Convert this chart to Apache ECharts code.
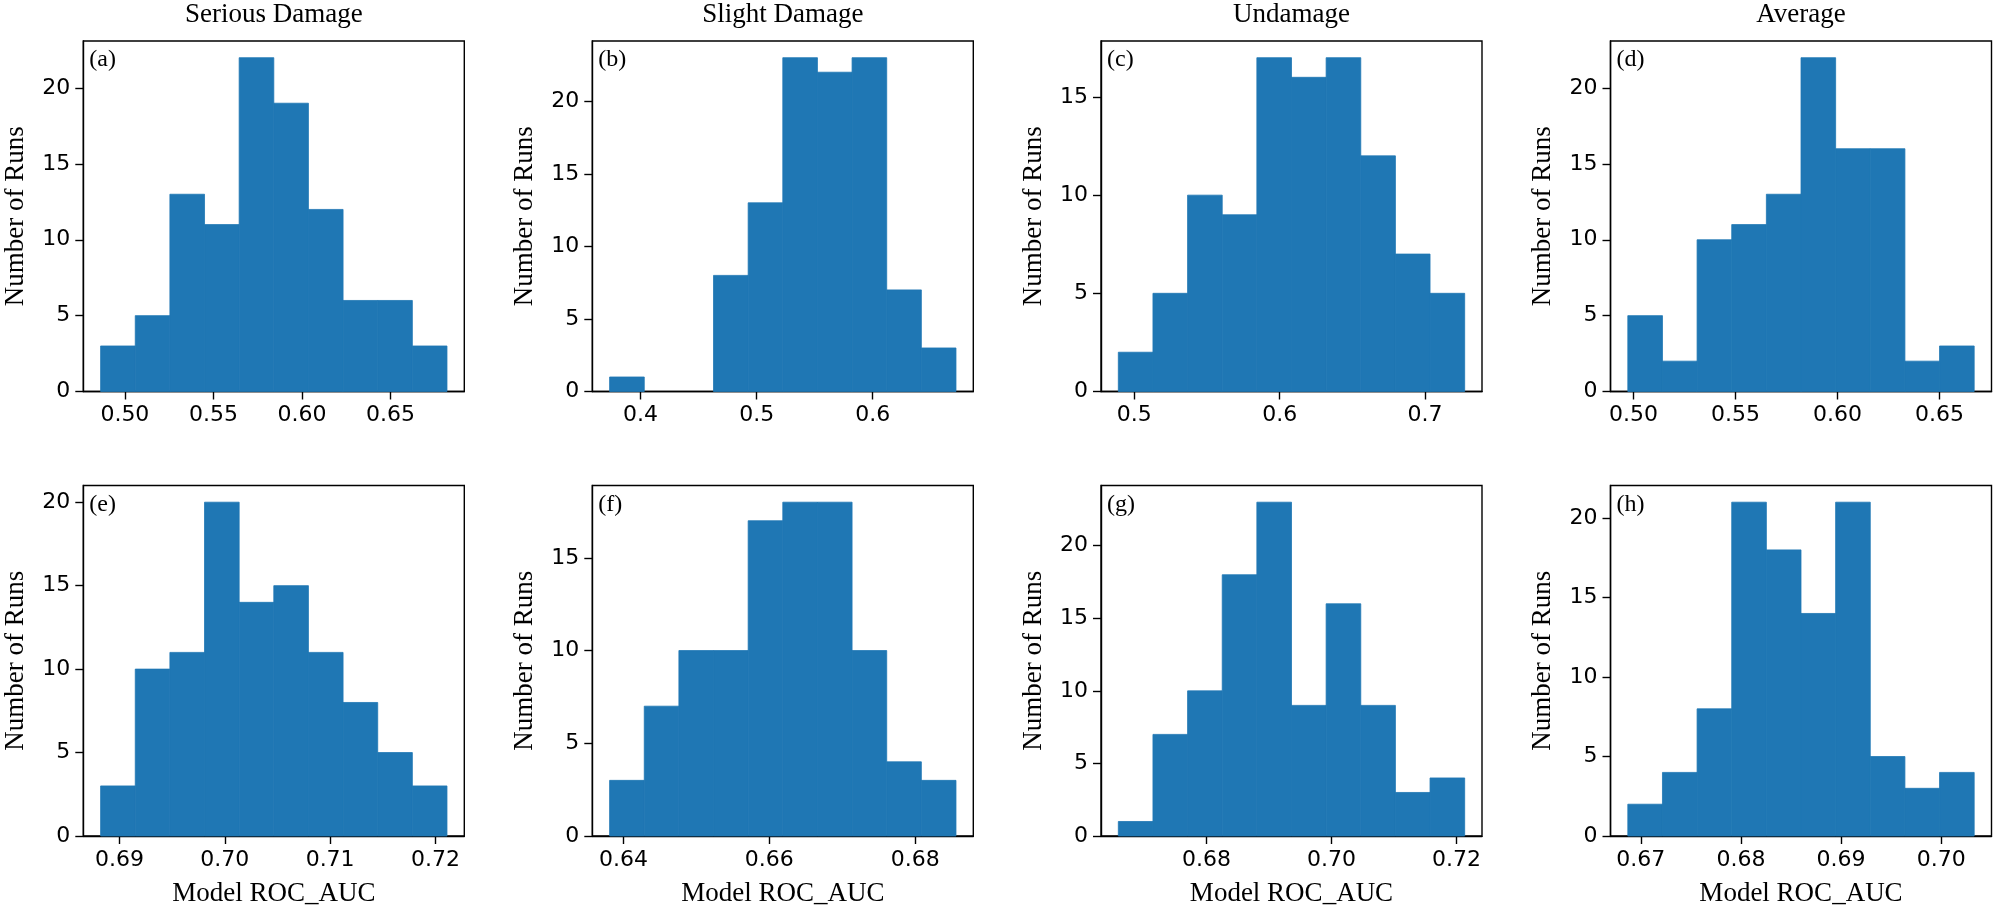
<!DOCTYPE html>
<html lang="en">
<head>
    <meta charset="UTF-8">
    <script src="https://cdn.jsdelivr.net/npm/echarts@6.0.0/dist/echarts.min.js"></script>
    <title>ROC_AUC histograms</title>
    <style>
        html, body { margin: 0; padding: 0; background: #fff; }
        #tu { width: 1997px; height: 912px; }
    </style>
</head>
<body>
<div id="tu"></div>
<script type="text/javascript">
    // column titles and panel letters
    var colTitles = ['Serious Damage', 'Slight Damage', 'Undamage', 'Average'];
    var panelLetters = ['(a)', '(b)', '(c)', '(d)', '(e)', '(f)', '(g)', '(h)'];

    // first and last bin edge of each histogram (10 equal bins)
    var binRanges = [
        [0.4863, 0.6819], [0.3733, 0.6718], [0.4890, 0.7273], [0.4972, 0.6670],
        [0.6882, 0.7211], [0.6381, 0.6856], [0.6659, 0.7213], [0.6687, 0.7033]
    ];

    // counts per bin
    var countsA = [3, 5, 13, 11, 22, 19, 12, 6, 6, 3];
    var countsB = [1, 0, 0, 8, 13, 23, 22, 23, 7, 3];
    var countsC = [2, 5, 10, 9, 17, 16, 17, 12, 7, 5];
    var countsD = [5, 2, 10, 11, 13, 22, 16, 16, 2, 3];
    var countsE = [3, 10, 11, 20, 14, 15, 11, 8, 5, 3];
    var countsF = [3, 7, 10, 10, 17, 18, 18, 10, 4, 3];
    var countsG = [1, 7, 10, 18, 23, 9, 16, 9, 3, 4];
    var countsH = [2, 4, 8, 21, 18, 14, 21, 5, 3, 4];
    var allCounts = [countsA, countsB, countsC, countsD, countsE, countsF, countsG, countsH];

    // tick labels
    var xTicks = [
        [0.50, 0.55, 0.60, 0.65], [0.4, 0.5, 0.6], [0.5, 0.6, 0.7], [0.50, 0.55, 0.60, 0.65],
        [0.69, 0.70, 0.71, 0.72], [0.64, 0.66, 0.68], [0.68, 0.70, 0.72], [0.67, 0.68, 0.69, 0.70]
    ];
    var xDigits = [2, 1, 1, 2, 2, 2, 2, 2];
    var yTicks = [
        [0, 5, 10, 15, 20], [0, 5, 10, 15, 20], [0, 5, 10, 15], [0, 5, 10, 15, 20],
        [0, 5, 10, 15, 20], [0, 5, 10, 15], [0, 5, 10, 15, 20], [0, 5, 10, 15, 20]
    ];

    var colLeft = [83.3, 592.3, 1101, 1610.5];
    var rowTop = [41, 485.5];
    var gw = 381, gh = 350.5;
    var barColor = '#1f77b4';
    var serif = '"Liberation Serif", "Times New Roman", serif';
    var sans = '"DejaVu Sans", sans-serif';

    var grids = [], xAxes = [], yAxes = [], series = [], titles = [];

    for (var p = 0; p < 8; p++) {
        var col = p % 4, row = Math.floor(p / 4);
        var lo = binRanges[p][0], hi = binRanges[p][1];
        var w = (hi - lo) / 10;
        var counts = allCounts[p];
        var data = counts.map(function (c, i) {
            return [lo + i * w, lo + (i + 1) * w, c];
        });
        var maxC = Math.max.apply(null, counts);

        grids.push({
            left: colLeft[col], top: rowTop[row], width: gw, height: gh,
            show: true, borderColor: '#000', borderWidth: 1.4, backgroundColor: 'transparent'
        });

        (function (digits) {
            xAxes.push({
                type: 'value', gridIndex: p,
                min: lo - 0.05 * (hi - lo), max: hi + 0.05 * (hi - lo),
                name: row === 1 ? 'Model ROC_AUC' : '',
                nameLocation: 'middle', nameGap: 44,
                nameTextStyle: { fontFamily: serif, fontSize: 27, color: '#000' },
                axisLine: { show: true, onZero: false, lineStyle: { color: '#000', width: 1.4 } },
                axisTick: { show: true, length: 8, lineStyle: { color: '#000', width: 1.4 }, customValues: xTicks[p] },
                axisLabel: {
                    fontFamily: sans, fontSize: 22, color: '#000', margin: 13,
                    customValues: xTicks[p],
                    formatter: function (v) { return v.toFixed(digits); }
                },
                splitLine: { show: false }
            });
        })(xDigits[p]);

        yAxes.push({
            type: 'value', gridIndex: p,
            min: 0, max: maxC * 1.05,
            name: 'Number of Runs',
            nameLocation: 'middle', nameGap: 54,
            nameTextStyle: { fontFamily: serif, fontSize: 27, color: '#000' },
            axisLine: { show: true, lineStyle: { color: '#000', width: 1.4 } },
            axisTick: { show: true, length: 8, lineStyle: { color: '#000', width: 1.4 }, customValues: yTicks[p] },
            axisLabel: { fontFamily: sans, fontSize: 22, color: '#000', margin: 13, customValues: yTicks[p] },
            splitLine: { show: false }
        });

        series.push({
            type: 'custom',
            xAxisIndex: p, yAxisIndex: p,
            encode: { x: [0, 1], y: 2 },
            data: data,
            renderItem: function (params, api) {
                var a = api.coord([api.value(0), api.value(2)]);
                var b = api.coord([api.value(1), 0]);
                if (api.value(2) === 0) return null;
                return {
                    type: 'rect',
                    shape: { x: a[0], y: a[1], width: b[0] - a[0], height: b[1] - a[1] },
                    style: { fill: barColor, stroke: barColor, lineWidth: 0.8 }
                };
            }
        });

        titles.push({
            text: panelLetters[p],
            left: colLeft[col] + 6, top: rowTop[row] + 7,
            textStyle: { fontFamily: serif, fontSize: 24, fontWeight: 'normal', color: '#000' },
            padding: 0
        });
    }

    for (var c = 0; c < 4; c++) {
        titles.push({
            text: colTitles[c],
            left: colLeft[c] + gw / 2, top: 1, textAlign: 'center',
            textStyle: { fontFamily: serif, fontSize: 27, fontWeight: 'normal', color: '#000' },
            padding: 0
        });
    }

    var thisChart = echarts.init(document.getElementById('tu'));
    thisChart.setOption({
        animation: false,
        title: titles,
        grid: grids,
        xAxis: xAxes,
        yAxis: yAxes,
        series: series
    });
</script>
</body>
</html>
